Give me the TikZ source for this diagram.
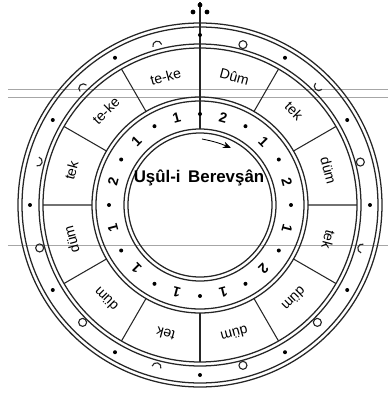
\documentclass[tikz,border=0pt]{standalone}
\usepackage{fontspec}
\setmainfont{Liberation Sans}
\usetikzlibrary{arrows.meta}

\begin{document}
\begin{tikzpicture}[
  x=0.25mm, y=0.25mm,
  ring/.style={draw=black!85, line width=0.9pt},
  spoke/.style={draw=black!85, line width=0.75pt},
  scan/.style={draw=black!35, line width=0.6pt},
  word/.style={font=\fontsize{10}{12}\selectfont, inner sep=0pt},
  num/.style={font=\bfseries\fontsize{10}{12}\selectfont, inner sep=0pt},
  title/.style={font=\bfseries\fontsize{12}{14}\selectfont, inner sep=0pt},
  sym/.style={draw=black!85, line width=0.8pt},
  arr/.style={-{Stealth[length=2mm, width=1.6mm]}, line width=0.6pt},
]
  \useasboundingbox (-200,-189) rectangle (188,205);

  % faint ruled lines of the scanned page
  \draw[scan] (-192,116) -- (188,116);
  \draw[scan] (-192,108) -- (188,108);
  \draw[scan] (-192,-40) -- (188,-40);

  % rings
  \draw[ring] (0,0) circle (182) (0,0) circle (178);
  \draw[ring] (0,0) circle (161) (0,0) circle (157);
  \draw[ring] (0,0) circle (108) (0,0) circle (104);
  \draw[ring] (0,0) circle (76) (0,0) circle (72);

  % dividing lines of the word ring
  \draw[spoke] (0,203) -- (90:76);
  \draw[spoke] (270:108) -- (270:157);
  \draw[spoke] (60:108) -- (60:157)   (30:108) -- (30:157)
               (0:108) -- (0:157)     (-30:108) -- (-30:157)
               (-60:108) -- (-60:157) (240:108) -- (240:157)
               (210:108) -- (210:157) (180:108) -- (180:157)
               (150:108) -- (150:157) (120:108) -- (120:157);

  % mark at the top
  \fill (0,200) circle (2.4) (-7,193) circle (2.4) (7,193) circle (2.4);

  % dots of the outer and number rings
  \fill (90:170) circle (2) (60:170) circle (2) (30:170) circle (2)
        (0:170) circle (2) (-30:170) circle (2) (-60:170) circle (2)
        (-90:170) circle (2) (240:170) circle (2) (210:170) circle (2)
        (180:170) circle (2) (150:170) circle (2) (120:170) circle (2);
  \fill (90:91) circle (2) (60:91) circle (2) (30:91) circle (2)
        (0:91) circle (2) (-30:91) circle (2) (-60:91) circle (2)
        (-90:91) circle (2) (240:91) circle (2) (210:91) circle (2)
        (180:91) circle (2) (150:91) circle (2) (120:91) circle (2);

  % strokes of the outer ring
  \draw[sym] (75:166) circle (4)  (15:166) circle (4)
             (-45:166) circle (4) (-75:166) circle (4)
             (-135:166) circle (4) (-165:166) circle (4);
  \draw[sym, shift={(45:168)}, rotate=45] (0,4.5) arc (90:270:4.5);
  \draw[sym, shift={(-15:168)}, rotate=-15] (0,4.5) arc (90:270:4.5);
  \draw[sym, shift={(-105:168)}, rotate=-105] (0,4.5) arc (90:270:4.5);
  \draw[sym, shift={(165:168)}, rotate=165] (0,4.5) arc (90:270:4.5);
  \draw[sym, shift={(135:165)}, rotate=135] (0,-4.5) arc (-90:90:4.5);
  \draw[sym, shift={(105:165)}, rotate=105] (0,-4.5) arc (-90:90:4.5);

  % words
  \node[word, rotate=-15]  (w1)  at (75:133)   {Dûm};
  \node[word, rotate=-45]  (w2)  at (45:133)   {tek};
  \node[word, rotate=-75]  (w3)  at (15:133)   {düm};
  \node[word, rotate=-105] (w4)  at (-15:133)  {tek};
  \node[word, rotate=-135] (w5)  at (-45:133)  {düm};
  \node[word, rotate=-165] (w6)  at (-75:133)  {düm};
  \node[word, rotate=165]  (w7)  at (-105:133) {tek};
  \node[word, rotate=135]  (w8)  at (-135:133) {düm};
  \node[word, rotate=105]  (w9)  at (-165:133) {düm};
  \node[word, rotate=75]   (w10) at (165:133)  {tek};
  \node[word, rotate=45]   (w11) at (135:133)  {te-ke};
  \node[word, rotate=15]   (w12) at (105:133)  {te-ke};

  % beats
  \node[num, rotate=-15]  (n1)  at (75:90)   {2};
  \node[num, rotate=-45]  (n2)  at (45:90)   {1};
  \node[num, rotate=-75]  (n3)  at (15:90)   {2};
  \node[num, rotate=-105] (n4)  at (-15:90)  {1};
  \node[num, rotate=-135] (n5)  at (-45:90)  {2};
  \node[num, rotate=-165] (n6)  at (-75:90)  {1};
  \node[num, rotate=165]  (n7)  at (-105:90) {1};
  \node[num, rotate=135]  (n8)  at (-135:90) {1};
  \node[num, rotate=105]  (n9)  at (-165:90) {1};
  \node[num, rotate=75]   (n10) at (165:90)  {2};
  \node[num, rotate=45]   (n11) at (135:90)  {1};
  \node[num, rotate=15]   (n12) at (105:90)  {1};

  % centre
  \node[title] (title) at (-1,27) {Uşûl-i\hspace{0.45em}Berevşân};
  \coordinate (a0) at (2,66);
  \coordinate (a1) at (31,57);
  \draw[arr] (a0) to[bend left=6] (a1);
\end{tikzpicture}
\end{document}
